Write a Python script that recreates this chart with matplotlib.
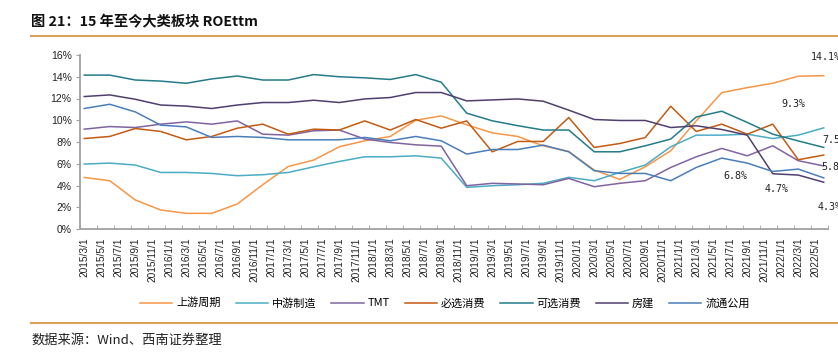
import numpy as np
import pandas as pd
import matplotlib
matplotlib.use('Agg')
import matplotlib.pyplot as plt
from matplotlib.lines import Line2D

plt.rcParams['font.family'] = ['Liberation Sans', 'Noto Sans CJK SC', 'DejaVu Sans']
CJK = ['Noto Sans CJK SC', 'DejaVu Sans']

# 季度数据 2015Q1 - 2022Q2
dates = pd.date_range('2015-03-31', periods=30, freq='QE')
names = ['上游周期', '中游制造', 'TMT', '必选消费', '可选消费', '房建', '流通公用']
upstream = [4.74, 4.44, 2.67, 1.75, 1.44, 1.44, 2.30, 4.07, 5.75, 6.34, 7.56, 8.11, 8.51, 10.00, 10.40,
            9.58, 8.84, 8.51, 7.65, 7.13, 5.42, 4.56, 5.72, 7.19, 9.94, 12.54, 13.00, 13.40, 14.05, 14.10]
midstream = [5.97, 6.06, 5.88, 5.20, 5.20, 5.11, 4.90, 4.99, 5.20, 5.72, 6.21, 6.64, 6.64, 6.73, 6.52,
             3.83, 3.98, 4.07, 4.20, 4.75, 4.44, 5.20, 5.88, 7.56, 8.63, 8.63, 8.72, 8.32, 8.63, 9.30]
tmt = [9.18, 9.42, 9.33, 9.64, 9.85, 9.64, 9.94, 8.72, 8.63, 9.03, 9.10, 8.27, 7.96, 7.74, 7.62,
       3.98, 4.20, 4.14, 4.07, 4.65, 3.89, 4.20, 4.44, 5.66, 6.64, 7.41, 6.73, 7.65, 6.28, 5.80]
staples = [8.32, 8.51, 9.24, 8.97, 8.20, 8.51, 9.27, 9.64, 8.72, 9.18, 9.10, 9.94, 9.10, 10.07, 9.27,
           9.94, 7.10, 8.05, 8.05, 10.25, 7.50, 7.86, 8.41, 11.29, 8.97, 9.64, 8.72, 9.64, 6.37, 6.80]
discretionary = [14.15, 14.15, 13.70, 13.60, 13.40, 13.80, 14.07, 13.70, 13.70, 14.20, 14.00, 13.90, 13.75, 14.20, 13.50,
                 10.65, 9.95, 9.50, 9.10, 9.10, 7.10, 7.10, 7.65, 8.27, 10.30, 10.83, 9.80, 8.72, 8.10, 7.50]
realestate = [12.18, 12.33, 11.93, 11.40, 11.30, 11.08, 11.40, 11.63, 11.63, 11.84, 11.63, 11.96, 12.09, 12.55, 12.55,
              11.78, 11.87, 11.96, 11.75, 10.93, 10.07, 9.98, 9.98, 9.33, 9.49, 9.15, 8.63, 5.08, 4.96, 4.30]
utilities = [11.08, 11.47, 10.77, 9.55, 9.39, 8.42, 8.51, 8.42, 8.20, 8.20, 8.20, 8.42, 8.11, 8.51, 8.11,
             6.89, 7.31, 7.31, 7.71, 7.10, 5.36, 5.11, 5.11, 4.44, 5.66, 6.52, 6.06, 5.29, 5.51, 4.70]
series = [upstream, midstream, tmt, staples, discretionary, realestate, utilities]
colors = ['#F79646', '#4BACC6', '#8064A2', '#C55A11', '#247B8A', '#4F3F6E', '#4A7EBB']
# 末端标注偏移(像素)
label_offsets = [(-13, 19), (-42, 24), (-2, -1.5), (-100, -21), (-1, 7), (-6, -25), (-59, -11)]

tick_dates = pd.date_range('2015-03-01', '2022-05-01', freq='2MS')


def month_idx(d):
    return (d.year - 2015) * 12 + d.month - 3


x = np.array([month_idx(d) for d in dates])
tx = np.array([month_idx(d) for d in tick_dates])
tlabels = [f'{d.year}/{d.month}/1' for d in tick_dates]

fig = plt.figure(figsize=(8.38, 3.53), dpi=100)
ax = fig.add_axes([80 / 838, 1 - 229 / 353, 748 / 838, 174 / 353])

for name, vals, c, off in zip(names, series, colors, label_offsets):
    ax.plot(x, vals, color=c, lw=1.1, label=name)
    ax.annotate(f'{vals[-1]:.1f}%', xy=(x[-1], vals[-1]), xytext=off, textcoords='offset pixels',
                ha='left', va='center', fontsize=7.2, family='DejaVu Sans Mono', color='#222222',
                annotation_clip=False)

ax.set_xlim(-0.5, 87.5)
ax.set_ylim(0, 16)
ax.set_yticks(np.arange(0, 17, 2))
ax.set_yticklabels([f'{v}%' for v in range(0, 17, 2)], fontsize=7.5, color='#222222')
ax.set_xticks(tx)
ax.set_xticklabels(tlabels, rotation=90, fontsize=7.3, color='#222222')
ax.set_xticks(np.arange(-0.5, 88, 2), minor=True)
ax.tick_params(axis='x', which='major', length=0, pad=6)
ax.tick_params(axis='x', which='minor', length=3, direction='in', color='#A0A0A0')
ax.tick_params(axis='y', length=3, color='#A0A0A0', pad=3)
for s in ['top', 'right']:
    ax.spines[s].set_visible(False)
for s in ['left', 'bottom']:
    ax.spines[s].set_color('#A0A0A0')
    ax.spines[s].set_linewidth(1.3)

handles = [Line2D([], [], color=c, lw=1.1) for c in colors]
fig.legend(handles, names, loc='center', bbox_to_anchor=(0.531, 1 - 303 / 353), ncol=7,
           frameon=False, prop={'family': CJK, 'size': 8}, handlelength=2.9,
           handletextpad=0.35, columnspacing=1.35)

fig.text(31 / 838, 1 - 22 / 353, '图 21：15 年至今大类板块 ROEttm', fontsize=10.3,
         fontweight='bold', family=CJK, va='center', ha='left', color='#111111')
fig.add_artist(Line2D([31 / 838, 1], [1 - 36 / 353] * 2, color='#D9A15B', lw=1.5))
fig.add_artist(Line2D([31 / 838, 1], [1 - 323 / 353] * 2, color='#D9A15B', lw=1.5))
fig.text(31 / 838, 1 - 340 / 353, '数据来源：Wind、西南证券整理', fontsize=9.5, style='italic',
         family=CJK, va='center', ha='left', color='#222222')

fig.savefig('out.png', dpi=100)
